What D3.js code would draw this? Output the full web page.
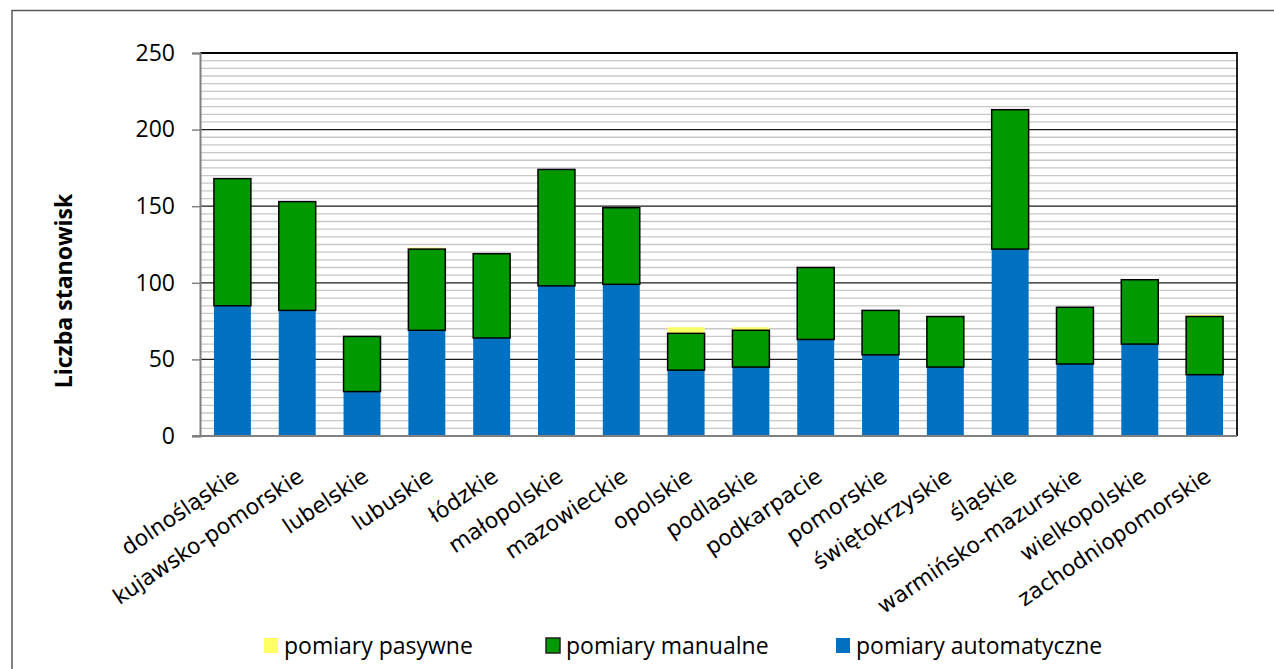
<!DOCTYPE html>
<html>
<head>
<meta charset="utf-8">
<script src="https://cdn.jsdelivr.net/npm/d3@7"></script>
<style>
  html, body { margin: 0; padding: 0; background: #ffffff; }
  svg { display: block; }
</style>
</head>
<body>
<svg id="chart" width="1274" height="669"></svg>
<script>
// Województwa (regions)
const categories = [
  "dolnośląskie", "kujawsko-pomorskie", "lubelskie", "lubuskie", "łódzkie",
  "małopolskie", "mazowieckie", "opolskie", "podlaskie", "podkarpacie",
  "pomorskie", "świętokrzyskie", "śląskie", "warmińsko-mazurskie",
  "wielkopolskie", "zachodniopomorskie"
];
// Liczba stanowisk by measurement type
const automatyczne = [85, 82, 29, 69, 64, 98, 99, 43, 45, 63, 53, 45, 122, 47, 60, 40];
const manualne     = [83, 71, 36, 53, 55, 76, 50, 24, 24, 47, 29, 33, 91, 37, 42, 38];
const pasywne      = [0, 0, 0, 1, 0, 0, 0, 4, 2, 0, 0, 0, 0, 0, 0, 1];

const seriesNames = ["pomiary automatyczne", "pomiary manualne", "pomiary pasywne"];
const yTicks = [0, 50, 100, 150, 200, 250];
const yTitle = "Liczba stanowisk";

const colors = {
  "pomiary automatyczne": "#0070c0",
  "pomiary manualne": "#009900",
  "pomiary pasywne": "#ffff66"
};

const svg = d3.select("#chart");
const W = 1274, H = 669;
const plot = { left: 200, right: 1237, top: 53, bottom: 436 };

// outer chart frame
svg.append("rect")
  .attr("x", 12).attr("y", 10.5)
  .attr("width", W + 20).attr("height", H + 20)
  .attr("fill", "none").attr("stroke", "#595959").attr("stroke-width", 1.5);

const x = d3.scaleBand()
  .domain(categories)
  .range([plot.left, plot.right])
  .paddingInner(0.43)
  .paddingOuter(0.215);

const y = d3.scaleLinear()
  .domain([0, 250])
  .range([plot.bottom, plot.top]);

// minor gridlines every 5
const minor = d3.range(5, 250, 5).filter(v => v % 50 !== 0);
svg.append("g").selectAll("line").data(minor).join("line")
  .attr("x1", plot.left).attr("x2", plot.right)
  .attr("y1", d => y(d)).attr("y2", d => y(d))
  .attr("stroke", "#c8c8c8").attr("stroke-width", 1.3);

// major gridlines every 50
svg.append("g").selectAll("line").data(yTicks.filter(v => v > 0 && v < 250)).join("line")
  .attr("x1", plot.left).attr("x2", plot.right)
  .attr("y1", d => y(d)).attr("y2", d => y(d))
  .attr("stroke", "#1a1a1a").attr("stroke-width", 1.2);

// stacked data
const rows = categories.map((c, i) => ({
  cat: c,
  "pomiary automatyczne": automatyczne[i],
  "pomiary manualne": manualne[i],
  "pomiary pasywne": pasywne[i]
}));
const stacked = d3.stack().keys(seriesNames)(rows);

const bars = svg.append("g");
// automatyczne (no outline)
bars.append("g").selectAll("rect").data(stacked[0]).join("rect")
  .attr("x", d => x(d.data.cat))
  .attr("width", x.bandwidth())
  .attr("y", d => y(d[1]))
  .attr("height", d => y(d[0]) - y(d[1]))
  .attr("fill", colors["pomiary automatyczne"]);
// pasywne (no outline)
bars.append("g").selectAll("rect").data(stacked[2].filter(d => d[1] > d[0])).join("rect")
  .attr("x", d => x(d.data.cat))
  .attr("width", x.bandwidth())
  .attr("y", d => y(d[1]))
  .attr("height", d => y(d[0]) - y(d[1]))
  .attr("fill", colors["pomiary pasywne"]);
// manualne (black outline)
bars.append("g").selectAll("rect").data(stacked[1]).join("rect")
  .attr("x", d => x(d.data.cat))
  .attr("width", x.bandwidth())
  .attr("y", d => y(d[1]))
  .attr("height", d => y(d[0]) - y(d[1]))
  .attr("fill", colors["pomiary manualne"])
  .attr("stroke", "#000").attr("stroke-width", 1.5);

// top border (250 line) and right border
svg.append("line")
  .attr("x1", plot.left).attr("x2", plot.right + 1)
  .attr("y1", y(250)).attr("y2", y(250))
  .attr("stroke", "#000").attr("stroke-width", 2);
svg.append("line")
  .attr("x1", plot.right).attr("x2", plot.right)
  .attr("y1", y(250)).attr("y2", plot.bottom)
  .attr("stroke", "#222").attr("stroke-width", 2);

// y axis
const yAxis = d3.axisLeft(y).tickValues(yTicks).tickSize(8).tickPadding(17);
const gy = svg.append("g").attr("transform", `translate(${plot.left},0)`).call(yAxis);
gy.select(".domain").attr("stroke", "#808080").attr("stroke-width", 2);
gy.selectAll(".tick line").attr("stroke", "#808080").attr("stroke-width", 1.5);
gy.selectAll(".tick text")
  .attr("font-family", "'Open Sans', sans-serif")
  .attr("font-size", 23)
  .attr("fill", "#000");

// x axis baseline
svg.append("line")
  .attr("x1", plot.left - 8).attr("x2", plot.right)
  .attr("y1", plot.bottom).attr("y2", plot.bottom)
  .attr("stroke", "#808080").attr("stroke-width", 2);

// x category labels, rotated
svg.append("g").selectAll("text").data(categories).join("text")
  .attr("transform", d => `translate(${x(d) + x.bandwidth() / 2 + 8},480) rotate(-34)`)
  .attr("text-anchor", "end")
  .attr("font-family", "'DejaVu Sans', sans-serif")
  .attr("font-size", 22)
  .attr("fill", "#000")
  .text(d => d);

// y axis title
svg.append("text")
  .attr("transform", `translate(72,291) rotate(-90)`)
  .attr("text-anchor", "middle")
  .attr("font-family", "'Open Sans', sans-serif")
  .attr("font-weight", "bold")
  .attr("font-size", 23)
  .attr("fill", "#000")
  .text(yTitle);

// legend
const legendItems = [
  { name: "pomiary pasywne", x: 264, stroke: false },
  { name: "pomiary manualne", x: 546, stroke: true },
  { name: "pomiary automatyczne", x: 836, stroke: false }
];
const lg = svg.append("g").selectAll("g").data(legendItems).join("g")
  .attr("transform", d => `translate(${d.x},638)`);
lg.append("rect")
  .attr("width", 14).attr("height", 15)
  .attr("fill", d => colors[d.name])
  .attr("stroke", d => d.stroke ? "#222" : "none")
  .attr("stroke-width", 1.5);
lg.append("text")
  .attr("x", 20).attr("y", 7.5)
  .attr("dy", "0.35em")
  .attr("font-family", "'Open Sans', sans-serif")
  .attr("font-size", 23)
  .attr("fill", "#000")
  .text(d => d.name);
</script>
</body>
</html>
